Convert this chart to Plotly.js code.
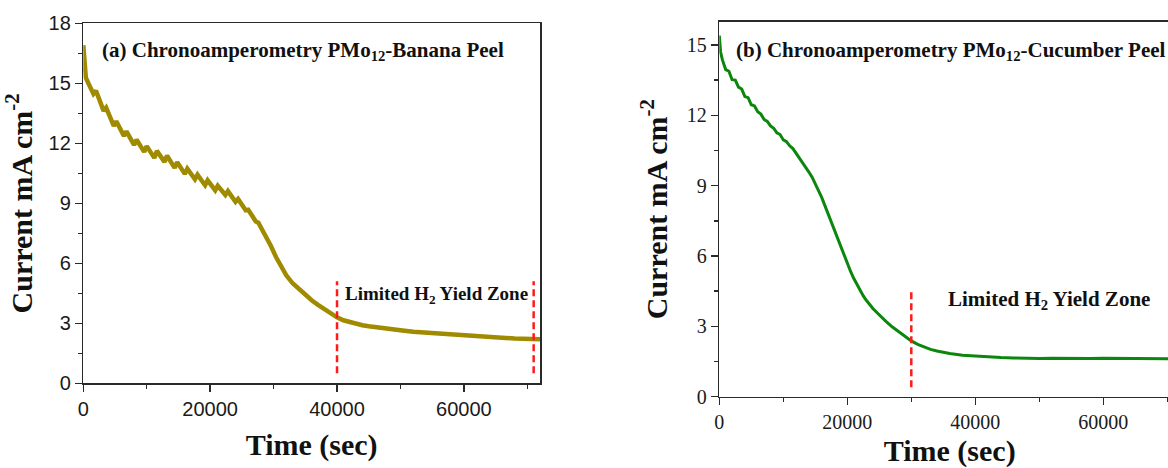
<!DOCTYPE html>
<html>
<head>
<meta charset="utf-8">
<script src="https://cdn.plot.ly/plotly-3.0.1.min.js"></script>
<style>
html, body { margin: 0; padding: 0; overflow: hidden; background: #fff; }
#chart { width: 1200px; height: 468px; }
</style>
</head>
<body>
<div id="chart"></div>
<script>
// ---- Data ----
const banana_time = [0, 400, 800, 1200, 1600, 2000, 2400, 2800, 3200, 3600, 4000, 4400, 4800, 5200, 5600, 6000, 6400, 6800, 7200, 7600, 8000, 8400, 8800, 9200, 9600, 10000, 10400, 10800, 11200, 11600, 12000, 12400, 12800, 13200, 13600, 14000, 14400, 14800, 15200, 15600, 16000, 16400, 16800, 17200, 17600, 18000, 18400, 18800, 19200, 19600, 20000, 20400, 20800, 21200, 21600, 22000, 22400, 22800, 23200, 23600, 24000, 24400, 24800, 25200, 25600, 26000, 26400, 26800, 27200, 27600, 28000, 28800, 29600, 30400, 31200, 32000, 33000, 34000, 35000, 36000, 37000, 38000, 39000, 40000, 41000, 42000, 43000, 44000, 45000, 46000, 47000, 48000, 49000, 50000, 52000, 54000, 56000, 58000, 60000, 62000, 64000, 66000, 68000, 70000, 72000];
const banana_current = [16.9, 15.28, 15.0, 14.73, 14.47, 14.63, 14.3, 13.93, 13.62, 13.78, 13.45, 13.13, 12.87, 13.1, 12.85, 12.61, 12.37, 12.6, 12.35, 12.13, 11.92, 12.18, 11.95, 11.75, 11.57, 11.86, 11.65, 11.45, 11.27, 11.62, 11.4, 11.23, 11.07, 11.38, 11.15, 10.95, 10.77, 11.06, 10.85, 10.65, 10.47, 10.73, 10.54, 10.36, 10.2, 10.43, 10.24, 10.06, 9.9, 10.15, 9.99, 9.82, 9.65, 9.88, 9.73, 9.57, 9.42, 9.61, 9.43, 9.25, 9.07, 9.22, 9.03, 8.84, 8.65, 8.68, 8.47, 8.27, 8.09, 8.03, 7.8, 7.35, 6.85, 6.3, 5.85, 5.4, 5.0, 4.7, 4.4, 4.15, 3.92, 3.7, 3.5, 3.3, 3.15, 3.05, 2.97, 2.9, 2.85, 2.8, 2.76, 2.72, 2.69, 2.65, 2.58, 2.53, 2.48, 2.44, 2.4, 2.36, 2.32, 2.28, 2.24, 2.22, 2.2];

const cucumber_time = [0, 200, 500, 1000, 1500, 2000, 2500, 3000, 3500, 4000, 4500, 5000, 5500, 6000, 6500, 7000, 7500, 8000, 8500, 9000, 9500, 10000, 10500, 11000, 11500, 12000, 12500, 13000, 13500, 14000, 14500, 15000, 15500, 16000, 16500, 17000, 17500, 18000, 18500, 19000, 19500, 20000, 20500, 21000, 21500, 22000, 22500, 23000, 23500, 24000, 24500, 25000, 26000, 27000, 28000, 29000, 30000, 31000, 32000, 33000, 34000, 35000, 36000, 38000, 40000, 42000, 44000, 46000, 48000, 50000, 52000, 54000, 56000, 58000, 60000, 62000, 64000, 66000, 68000, 70000, 72000];
const cucumber_current = [15.4, 14.7, 14.35, 13.95, 13.88, 13.52, 13.5, 13.2, 13.12, 12.8, 12.75, 12.45, 12.4, 12.15, 12.05, 11.82, 11.74, 11.55, 11.45, 11.25, 11.18, 10.95, 10.88, 10.7, 10.58, 10.38, 10.22, 9.98, 9.82, 9.58, 9.36, 9.08, 8.8, 8.5, 8.15, 7.8, 7.45, 7.08, 6.72, 6.35, 6.0, 5.65, 5.35, 5.05, 4.78, 4.52, 4.3, 4.1, 3.92, 3.76, 3.62, 3.48, 3.22, 2.98, 2.77, 2.57, 2.38, 2.23, 2.11, 2.02, 1.95, 1.89, 1.84, 1.77, 1.73, 1.7, 1.67, 1.65, 1.63, 1.63, 1.64, 1.63, 1.62, 1.63, 1.64, 1.63, 1.62, 1.63, 1.62, 1.62, 1.62];

// zone boundaries (time, s) and dashed-line vertical extent (current)
const banana_zone = [40000, 71000];
const banana_zone_span = [0.5, 5.1];
const cucumber_zone = [30000, 71000];
const cucumber_zone_span = [0.4, 4.5];

const panel_titles = [
  "<b>(a) Chronoamperometry PMo<sub>12</sub>-Banana Peel</b>",
  "<b>(b) Chronoamperometry PMo<sub>12</sub>-Cucumber Peel</b>"
];
const zone_label = "<b>Limited H<sub>2</sub> Yield Zone</b>";
const x_title = "<b>Time (sec)</b>";
const y_title = "<b>Current mA cm<sup>-2</sup></b>";

// ---- Layout geometry ----
const W = 1200, H = 468;
const px = v => v / W;
const py = v => 1 - v / H;

const SERIF = "Liberation Serif, Times New Roman, serif";
const SANS = "Liberation Sans, Arial, sans-serif";
const AXC = "#2a2a2a";

function xAxis(domain, fontFam, anchor, standoff) {
  return {
    domain: domain, anchor: anchor, range: [0, 72000],
    dtick: 20000, tick0: 0, tickformat: "d",
    ticks: "outside", ticklen: 7, tickwidth: 1.5, tickcolor: AXC,
    minor: { dtick: 10000, ticks: "outside", ticklen: 4, tickwidth: 1.5, tickcolor: AXC, showgrid: false },
    showline: true, linecolor: AXC, linewidth: 1.5, mirror: true,
    showgrid: false, zeroline: false,
    tickfont: { family: fontFam, size: 20, color: "#1a1a1a" },
    title: { text: x_title, font: { family: SERIF, size: 30, color: "#111" }, standoff: standoff },
    automargin: false
  };
}
function yAxis(domain, range, fontFam, anchor) {
  return {
    domain: domain, anchor: anchor, range: range,
    dtick: 3, tick0: 0,
    ticks: "outside", ticklen: 7, tickwidth: 1.5, tickcolor: AXC,
    minor: { dtick: 1.5, ticks: "outside", ticklen: 4, tickwidth: 1.5, tickcolor: AXC, showgrid: false },
    showline: true, linecolor: AXC, linewidth: 1.5, mirror: true,
    showgrid: false, zeroline: false,
    tickfont: { family: fontFam, size: 20, color: "#1a1a1a" },
    title: { text: y_title, font: { family: SERIF, size: 30, color: "#111" }, standoff: 10 },
    automargin: false
  };
}

const traces = [
  { x: banana_time, y: banana_current, type: "scatter", mode: "lines",
    line: { color: "#a08a00", width: 4.5 }, xaxis: "x", yaxis: "y", showlegend: false },
  { x: cucumber_time, y: cucumber_current, type: "scatter", mode: "lines",
    line: { color: "#0b870b", width: 3 }, xaxis: "x2", yaxis: "y2", showlegend: false }
];

const dashLine = { color: "#ff1a1a", width: 2.5, dash: "7px,4px" };
const shapes = [];
banana_zone.forEach(t => shapes.push({ type: "line", xref: "x", yref: "y",
  x0: t, x1: t, y0: banana_zone_span[0], y1: banana_zone_span[1], line: dashLine }));
cucumber_zone.forEach(t => shapes.push({ type: "line", xref: "x2", yref: "y2",
  x0: t, x1: t, y0: cucumber_zone_span[0], y1: cucumber_zone_span[1], line: dashLine }));

const annotations = [
  { text: panel_titles[0], xref: "paper", yref: "paper", x: px(100), y: py(51), xanchor: "left", yanchor: "middle",
    showarrow: false, font: { family: SERIF, size: 21, color: "#111" } },
  { text: panel_titles[1], xref: "paper", yref: "paper", x: px(734), y: py(51), xanchor: "left", yanchor: "middle",
    showarrow: false, font: { family: SERIF, size: 21, color: "#111" } },
  { text: zone_label, xref: "paper", yref: "paper", x: px(436), y: py(295), xanchor: "center", yanchor: "middle",
    showarrow: false, font: { family: SERIF, size: 19, color: "#111" } },
  { text: zone_label, xref: "paper", yref: "paper", x: px(1049), y: py(300), xanchor: "center", yanchor: "middle",
    showarrow: false, font: { family: SERIF, size: 21, color: "#111" } }
];

const layout = {
  width: W, height: H,
  margin: { l: 0, r: 0, t: 0, b: 0, pad: 0 },
  paper_bgcolor: "#fff", plot_bgcolor: "#fff",
  showlegend: false,
  xaxis: xAxis([px(83.3), px(540)], SANS, "y", 15),
  yaxis: yAxis([1 - 383.3 / H, 1 - 23.3 / H], [0, 18], SANS, "x"),
  xaxis2: xAxis([px(719.3), px(1180.1)], SERIF, "y2", 12),
  yaxis2: yAxis([1 - 396.7 / H, 1 - 21.5 / H], [0, 16], SERIF, "x2"),
  shapes: shapes,
  annotations: annotations
};

Plotly.newPlot("chart", traces, layout, { staticPlot: true, displayModeBar: false });
</script>
</body>
</html>
